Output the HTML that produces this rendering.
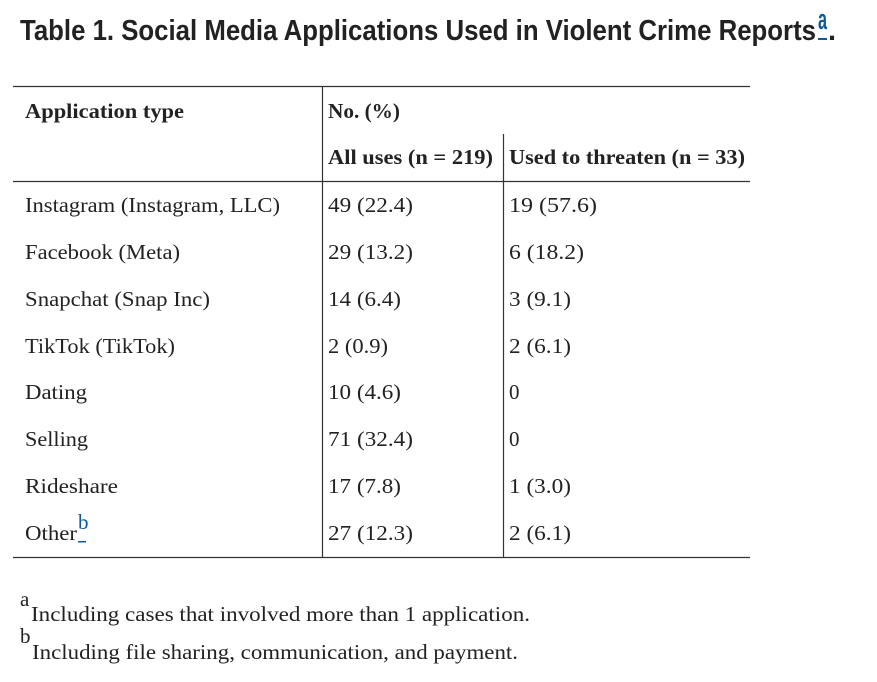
<!DOCTYPE html>
<html><head><meta charset="utf-8"><style>
html,body{margin:0;padding:0;background:#fff;}
svg{display:block}
.t{font-family:"Liberation Serif",serif;font-size:21px;fill:#222;}
.b{font-weight:bold;}
.h{font-family:"Liberation Sans",sans-serif;font-weight:bold;font-size:29px;fill:#222;}
.l{fill:#0a5a9c;}
</style></head><body>
<svg width="877" height="682" xmlns="http://www.w3.org/2000/svg">
<text class="h" x="20" y="40" textLength="796" lengthAdjust="spacingAndGlyphs">Table 1. Social Media Applications Used in Violent Crime Reports</text>
<text class="h l" x="818" y="29" font-size="15" textLength="9" lengthAdjust="spacingAndGlyphs">a</text>
<rect x="818" y="38" width="9" height="2" fill="#0a5a9c"/>
<text class="h" x="828" y="40">.</text>

<g stroke="#333" stroke-width="1.2">
<line x1="13" y1="86.5" x2="750" y2="86.5"/>
<line x1="13" y1="181.5" x2="750" y2="181.5"/>
<line x1="13" y1="557.5" x2="750" y2="557.5"/>
<line x1="322.5" y1="86" x2="322.5" y2="557"/>
<line x1="503.5" y1="134" x2="503.5" y2="557"/>
</g>

<text class="t b" x="25" y="118" textLength="159" lengthAdjust="spacingAndGlyphs">Application type</text>
<text class="t b" x="328" y="118" textLength="72" lengthAdjust="spacingAndGlyphs">No. (%)</text>
<text class="t b" x="328" y="164" textLength="165" lengthAdjust="spacingAndGlyphs">All uses (n = 219)</text>
<text class="t b" x="509" y="164" textLength="236" lengthAdjust="spacingAndGlyphs">Used to threaten (n = 33)</text>

<g class="t">
<text class="t" x="25" y="212" textLength="255" lengthAdjust="spacingAndGlyphs">Instagram (Instagram, LLC)</text>
<text class="t" x="328" y="212" textLength="85" lengthAdjust="spacingAndGlyphs">49 (22.4)</text>
<text class="t" x="509" y="212" textLength="88" lengthAdjust="spacingAndGlyphs">19 (57.6)</text>

<text class="t" x="25" y="259" textLength="155" lengthAdjust="spacingAndGlyphs">Facebook (Meta)</text>
<text class="t" x="328" y="259" textLength="85" lengthAdjust="spacingAndGlyphs">29 (13.2)</text>
<text class="t" x="509" y="259" textLength="75" lengthAdjust="spacingAndGlyphs">6 (18.2)</text>

<text class="t" x="25" y="306" textLength="185" lengthAdjust="spacingAndGlyphs">Snapchat (Snap Inc)</text>
<text class="t" x="328" y="306" textLength="73" lengthAdjust="spacingAndGlyphs">14 (6.4)</text>
<text class="t" x="509" y="306" textLength="62" lengthAdjust="spacingAndGlyphs">3 (9.1)</text>

<text class="t" x="25" y="353" textLength="150" lengthAdjust="spacingAndGlyphs">TikTok (TikTok)</text>
<text class="t" x="328" y="353" textLength="60" lengthAdjust="spacingAndGlyphs">2 (0.9)</text>
<text class="t" x="509" y="353" textLength="62" lengthAdjust="spacingAndGlyphs">2 (6.1)</text>

<text class="t" x="25" y="399" textLength="62" lengthAdjust="spacingAndGlyphs">Dating</text>
<text class="t" x="328" y="399" textLength="73" lengthAdjust="spacingAndGlyphs">10 (4.6)</text>
<text class="t" x="509" y="399">0</text>

<text class="t" x="25" y="446" textLength="63" lengthAdjust="spacingAndGlyphs">Selling</text>
<text class="t" x="328" y="446" textLength="85" lengthAdjust="spacingAndGlyphs">71 (32.4)</text>
<text class="t" x="509" y="446">0</text>

<text class="t" x="25" y="493" textLength="93" lengthAdjust="spacingAndGlyphs">Rideshare</text>
<text class="t" x="328" y="493" textLength="73" lengthAdjust="spacingAndGlyphs">17 (7.8)</text>
<text class="t" x="509" y="493" textLength="62" lengthAdjust="spacingAndGlyphs">1 (3.0)</text>

<text class="t" x="25" y="540" textLength="52" lengthAdjust="spacingAndGlyphs">Other</text>
<text class="t l" x="78" y="529" font-size="13">b</text>
<rect x="78" y="541" width="8" height="1.5" fill="#0a5a9c"/>
<text class="t" x="328" y="540" textLength="85" lengthAdjust="spacingAndGlyphs">27 (12.3)</text>
<text class="t" x="509" y="540" textLength="62" lengthAdjust="spacingAndGlyphs">2 (6.1)</text>
</g>

<text class="t" x="20" y="606" font-size="11">a</text>
<text class="t" x="31" y="621" textLength="499" lengthAdjust="spacingAndGlyphs">Including cases that involved more than 1 application.</text>
<text class="t" x="20" y="643" font-size="11">b</text>
<text class="t" x="32" y="659" textLength="486" lengthAdjust="spacingAndGlyphs">Including file sharing, communication, and payment.</text>
</svg>
</body></html>
